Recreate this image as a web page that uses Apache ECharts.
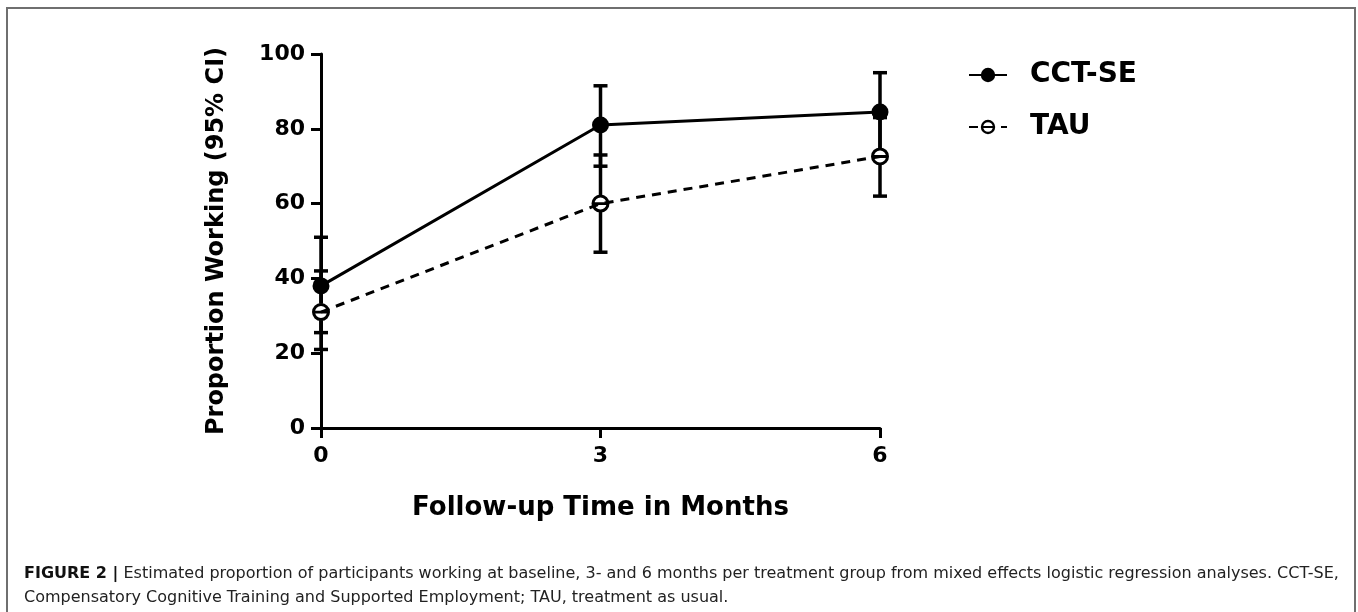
<!DOCTYPE html>
<html><head><meta charset="utf-8">
<script src="https://cdn.jsdelivr.net/npm/echarts@6/dist/echarts.min.js"></script>
<style>html,body{margin:0;padding:0;background:#fff}#chart{width:1358px;height:612px}</style>
</head><body><div id="chart"></div>
<script>
// ---- data ----
const months = [0, 3, 6];
const yTickStep = 20;
const seriesNames = ['CCT-SE', 'TAU'];
const cctMean = [38, 81, 84.5];
const cctLow = [25.5, 70, 73];
const cctHigh = [51, 91.5, 95];
const tauMean = [31, 60, 72.6];
const tauLow = [21, 47, 62];
const tauHigh = [42, 73, 83];
const xAxisTitle = 'Follow-up Time in Months';
const yAxisTitle = 'Proportion Working (95% CI)';
const captionBold = 'FIGURE 2 |';
const captionLine1 = ' Estimated proportion of participants working at baseline, 3- and 6 months per treatment group from mixed effects logistic regression analyses. CCT-SE,';
const captionLine2 = 'Compensatory Cognitive Training and Supported Employment; TAU, treatment as usual.';

// ---- build ----
const FONT = 'DejaVu Sans';
const tauSymbol = 'path://M0,-9 A9,9 0 1,1 0,9 A9,9 0 1,1 0,-9 Z M0,-6 A6,6 0 1,0 0,6 A6,6 0 1,0 0,-6 Z M-6,-1.4 L6,-1.4 L6,1.4 L-6,1.4 Z';
const cctData = months.map((m, i) => [m, cctMean[i]]);
const tauData = months.map((m, i) => [m, tauMean[i]]);
const errData = [];
months.forEach((m, i) => { errData.push([m, cctLow[i], cctHigh[i], cctMean[i], 0]); });
months.forEach((m, i) => { errData.push([m, tauLow[i], tauHigh[i], tauMean[i], 1]); });

const chart = echarts.init(document.getElementById('chart'));
const axisCommon = {
  axisLine: { show: true, lineStyle: { color: '#000', width: 3 } },
  axisTick: { show: true, length: 10, lineStyle: { color: '#000', width: 3 } },
  splitLine: { show: false },
  axisLabel: { color: '#000', fontFamily: FONT, fontWeight: 'bold', fontSize: 22 },
  nameTextStyle: { color: '#000', fontFamily: FONT, fontWeight: 'bold', fontSize: 26 }
};
chart.setOption({
  animation: false,
  backgroundColor: '#fff',
  grid: { left: 321, right: 478, top: 54, bottom: 184, containLabel: false },
  xAxis: Object.assign({}, axisCommon, {
    type: 'value', min: 0, max: 6, interval: 3,
    name: xAxisTitle, nameLocation: 'middle', nameGap: 67,
    axisLabel: Object.assign({}, axisCommon.axisLabel, { margin: 17 })
  }),
  yAxis: Object.assign({}, axisCommon, {
    type: 'value', min: 0, max: 100, interval: yTickStep,
    name: yAxisTitle, nameLocation: 'middle', nameGap: 92,
    nameTextStyle: Object.assign({}, axisCommon.nameTextStyle, { fontSize: 24 }),
    axisLabel: Object.assign({}, axisCommon.axisLabel, { margin: 16 })
  }),
  legend: {
    orient: 'vertical', left: 963, top: 56,
    itemWidth: 38, itemHeight: 18, itemGap: 24,
    data: seriesNames,
    textStyle: { color: '#000', fontFamily: FONT, fontWeight: 'bold', fontSize: 28, padding: [0, 0, 0, 18] }
  },
  graphic: [
    { type: 'rect', silent: true, shape: { x: 7, y: 8, width: 1348, height: 700 },
      style: { fill: 'none', stroke: '#6f6f6f', lineWidth: 2 } },
    { type: 'text', left: 24, top: 566, silent: true,
      style: { text: '{b|' + captionBold + '}' + captionLine1, fill: '#222',
        font: '16px "DejaVu Sans"',
        rich: { b: { fontWeight: 'bold', fill: '#111', fontFamily: 'DejaVu Sans', fontSize: 16 } } } },
    { type: 'text', left: 24, top: 590, silent: true,
      style: { text: captionLine2, fill: '#222', font: '16px "DejaVu Sans"' } }
  ],
  series: [
    {
      type: 'custom', name: 'err', z: 1, silent: true,
      data: errData,
      encode: { x: 0, y: [1, 2] },
      renderItem: function (params, api) {
        const x = api.value(0);
        const lo = api.coord([x, api.value(1)]);
        const hi = api.coord([x, api.value(2)]);
        const mid = api.coord([x, api.value(3)]);
        const cap = 7;
        const st = { stroke: '#000', lineWidth: 3.5 };
        const children = [
          { type: 'line', shape: { x1: lo[0], y1: lo[1], x2: hi[0], y2: hi[1] }, style: st },
          { type: 'line', shape: { x1: lo[0] - cap, y1: lo[1], x2: lo[0] + cap, y2: lo[1] }, style: st },
          { type: 'line', shape: { x1: hi[0] - cap, y1: hi[1], x2: hi[0] + cap, y2: hi[1] }, style: st }
        ];
        if (api.value(4) === 1) {
          children.push({ type: 'circle', shape: { cx: mid[0], cy: mid[1], r: 8.5 }, style: { fill: '#fff' } });
        }
        return { type: 'group', children: children };
      }
    },
    {
      name: seriesNames[0], type: 'line', z: 3, data: cctData,
      symbol: 'circle', symbolSize: 17,
      itemStyle: { color: '#000' },
      lineStyle: { color: '#000', width: 3 }
    },
    {
      name: seriesNames[1], type: 'line', z: 2, data: tauData,
      symbol: tauSymbol, symbolSize: 18, symbolKeepAspect: true,
      itemStyle: { color: '#000' },
      lineStyle: { color: '#000', width: 3, type: [9, 7] }
    }
  ]
});
</script></body></html>
